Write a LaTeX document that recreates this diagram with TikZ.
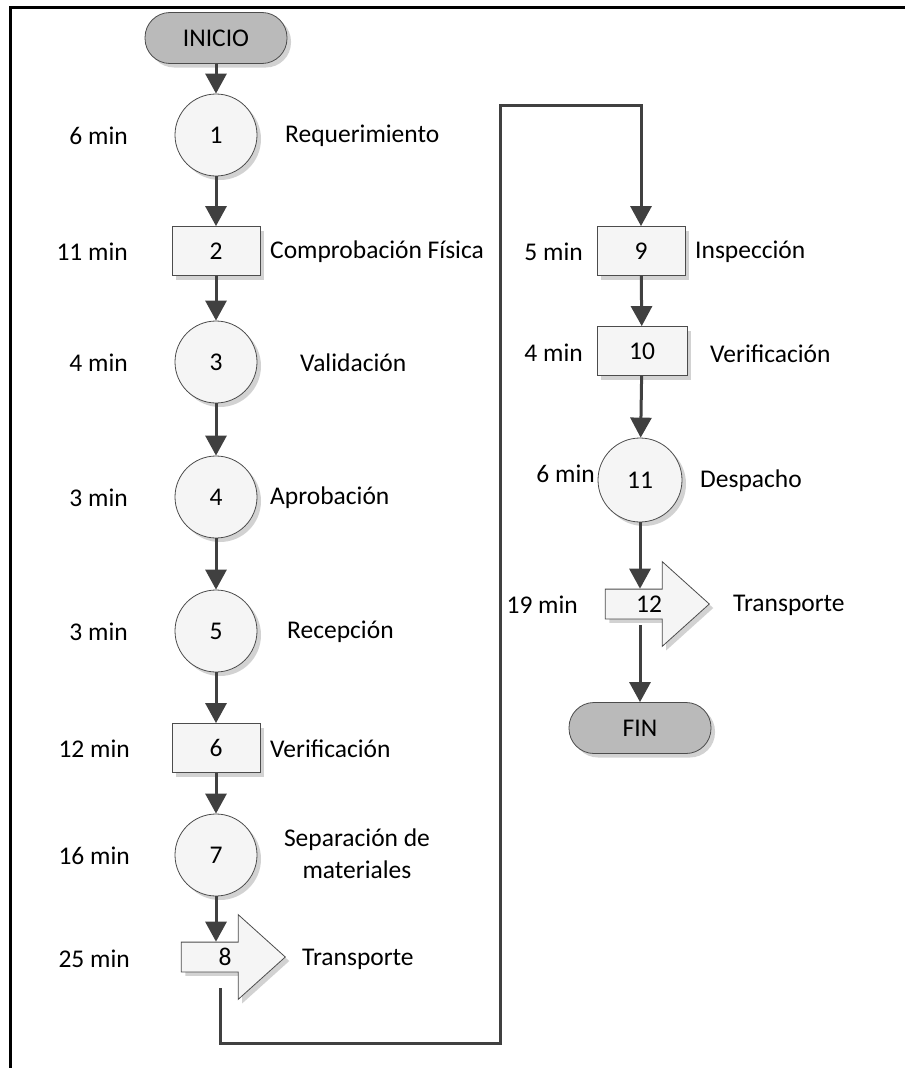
\documentclass[tikz,border=0pt]{standalone}
\usepackage{fontspec}
\setmainfont{Carlito}
\usetikzlibrary{
    arrows.meta,
    positioning,
    shapes.arrows,
    shadows
}

\begin{document}
\begin{tikzpicture}[
        x=1pt, y=-1pt,
        >={Triangle[length=20pt,width=21pt]},
        font=\fontsize{25.5}{32}\selectfont,
        base/.style={
            draw=black!70,
            line width=0.8pt,
            fill=black!4,
            drop shadow={shadow xshift=4pt, shadow yshift=-4pt, fill=black!35, opacity=.5}
        },
        circ/.style={base, circle, minimum size=82pt, inner sep=0pt},
        caja/.style={base, rectangle, minimum width=88pt, minimum height=49pt, inner sep=0pt},
        flecha/.style={
            base,
            single arrow,
            minimum height=104pt,
            single arrow head extend=27.5pt,
            single arrow tip angle=84,
            text height=17pt,
            text depth=0pt,
            inner ysep=6pt,
            inner xsep=0pt
        },
        term/.style={base, fill=black!27, rectangle, rounded corners=25pt,
            minimum width=142pt, minimum height=51pt},
        tiempo/.style={anchor=east, inner sep=0pt},
        texto/.style={anchor=west, inner sep=0pt},
        flujo/.style={->, line width=3pt, draw=black!75}
    ]
    \useasboundingbox (0,0) rectangle (905,1068);
    % marco
    \draw[line width=3pt] (10,1068) -- (10,7) -- (905,7);

    % columna izquierda
    \node[term] (INI) at (216,38) {INICIO};
    \node[circ] (P1) at (216,135) {1};
    \node[caja] (P2) at (216,251) {2};
    \node[circ] (P3) at (216,362) {3};
    \node[circ] (P4) at (216,497) {4};
    \node[circ] (P5) at (216,631) {5};
    \node[caja] (P6) at (216,748) {6};
    \node[circ] (P7) at (216,855) {7};
    \node[flecha] (P8) at (225,957) {8};

    % columna derecha
    \node[caja] (P9) at (641,251) {9};
    \node[caja, minimum width=90pt] (P10) at (642,351) {10};
    \node[circ, minimum size=84pt] (P11) at (640,480) {11};
    \node[flecha] (P12) at (649,604) {12};
    \node[term] (FIN) at (640,728) {FIN};

    % tiempos
    \node[tiempo] (T1) at (128,136) {6 min};
    \node[tiempo] (T2) at (128,252) {11 min};
    \node[tiempo] (T3) at (128,363) {4 min};
    \node[tiempo] (T4) at (128,498) {3 min};
    \node[tiempo] (T5) at (128,632) {3 min};
    \node[tiempo] (T6) at (130,749) {12 min};
    \node[tiempo] (T7) at (130,856) {16 min};
    \node[tiempo] (T8) at (130,959) {25 min};
    \node[tiempo] (T9) at (583,252) {5 min};
    \node[tiempo] (T10) at (583,353) {4 min};
    \node[tiempo] (T11) at (595,474) {6 min};
    \node[tiempo] (T12) at (578,605) {19 min};

    % actividades
    \node[texto] (D1) at (285,136) {Requerimiento};
    \node[texto] (D2) at (270,252) {Comprobación Física};
    \node[texto] (D3) at (300,363) {Validación};
    \node[texto] (D4) at (270,498) {Aprobación};
    \node[texto] (D5) at (287,632) {Recepción};
    \node[texto] (D6) at (270,749) {Verificación};
    \node[align=center, inner sep=0pt] (D7) at (357,854) {Separación de\\materiales};
    \node[texto] (D8) at (302,959) {Transporte};
    \node[texto] (D9) at (695,252) {Inspección};
    \node[texto] (D10) at (710,354) {Verificación};
    \node[texto] (D11) at (700,481) {Despacho};
    \node[texto] (D12) at (733,605) {Transporte};

    % flujo
    \draw[flujo] (INI) -- (P1);
    \draw[flujo] (P1) -- (P2);
    \draw[flujo] (P2) -- (P3);
    \draw[flujo] (P3) -- (P4);
    \draw[flujo] (P4) -- (P5);
    \draw[flujo] (P5) -- (P6);
    \draw[flujo] (P6) -- (P7);
    \draw[flujo] (P7) -- (P7 |- P8.north);
    \coordinate (S8) at ([xshift=-5pt,yshift=-16pt]P8.south);
    \coordinate (abajo) at (500,1043);
    \coordinate (arriba) at (500,105);
    \draw[flujo] (S8) |- (abajo) -- (arriba) -| (P9);
    \draw[flujo] (P9) -- (P10);
    \draw[flujo] (P10) -- (P11);
    \draw[flujo] (P11) -- (P11 |- P12.north);
    \draw[flujo, shorten <=6pt] (FIN |- P12.south) -- (FIN);
\end{tikzpicture}
\end{document}
